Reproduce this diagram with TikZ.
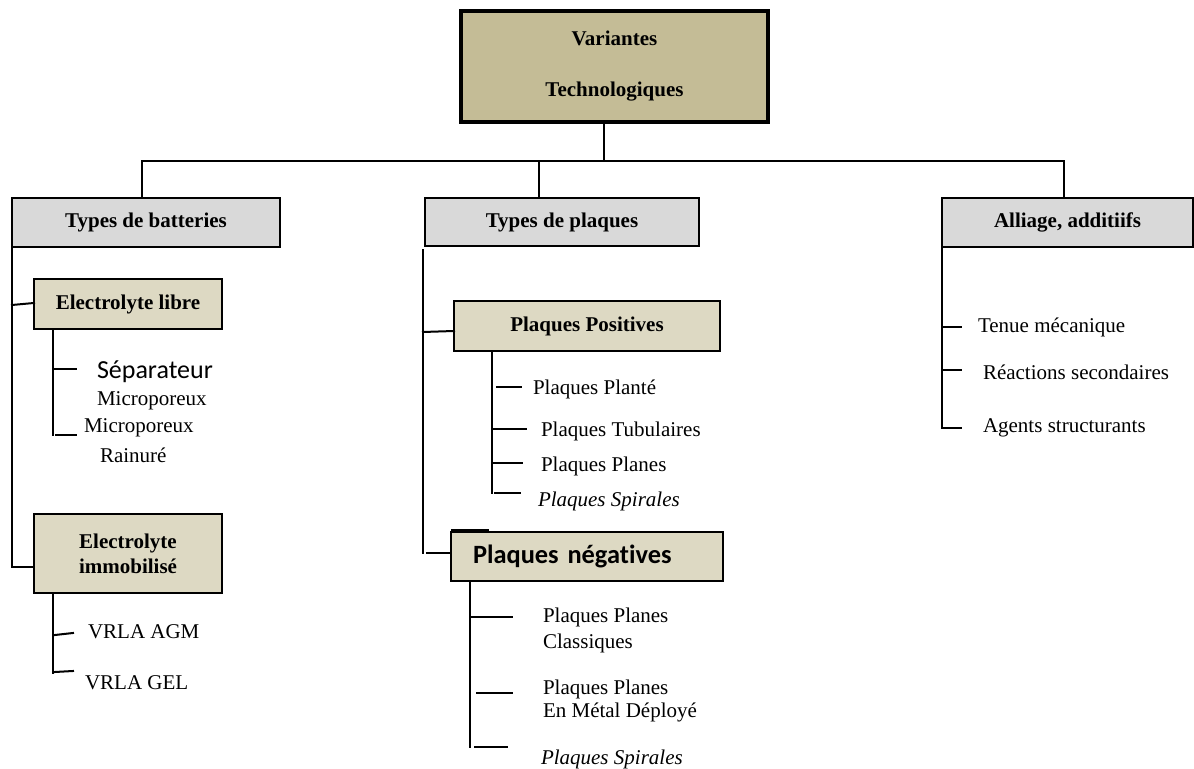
\documentclass[tikz,border=0pt]{standalone}
\usepackage{fontspec}
\setmainfont{Liberation Serif}
\newfontfamily\calib[Ligatures=NoCommon]{Carlito}
\definecolor{tanA}{HTML}{C4BC96}
\definecolor{tanB}{HTML}{DDD9C3}
\definecolor{grayB}{HTML}{D9D9D9}
\begin{document}
\begin{tikzpicture}[x=0.5pt,y=-0.5pt,
  every node/.style={inner sep=0pt, outer sep=0pt},
  conn/.style={line width=1pt, line cap=rect},
  topbox/.style={draw, line width=2pt, fill=tanA, font=\fontsize{10.5}{25.5}\selectfont\bfseries, align=center},
  graybox/.style={draw, line width=1pt, fill=grayB, font=\fontsize{10.5}{12.6}\selectfont\bfseries, align=center},
  tanbox/.style={draw, line width=1pt, fill=tanB, font=\fontsize{10.5}{12.5}\selectfont\bfseries, align=center},
  lbl/.style={anchor=west, font=\fontsize{10.5}{12.6}\selectfont, align=left},
  lblc/.style={anchor=west, font=\calib\fontsize{13}{15}\selectfont},
]
\useasboundingbox (0,0) rectangle (1194,769);

% boxes
\node[topbox, minimum width=153.5pt, minimum height=55.5pt] (top) at (614.5,66.5) {Variantes\\Technologiques};
\node[graybox, minimum width=134pt, minimum height=24.5pt] (batt) at (146,222.5) {Types de batteries};
\node[graybox, minimum width=137pt, minimum height=24pt] (plaq) at (562,222) {Types de plaques};
\node[graybox, minimum width=125.5pt, minimum height=24.5pt] (all) at (1067.5,222.5) {Alliage, additiifs};
\node[tanbox, minimum width=94pt, minimum height=25pt] (libre) at (128,304) {Electrolyte libre};
\node[tanbox, minimum width=94pt, minimum height=39.5pt] (immo) at (128,553.5) {Electrolyte\\immobilisé};
\node[tanbox, minimum width=133pt, minimum height=25pt] (pos) at (587,326) {Plaques Positives};
\node[draw, line width=1pt, fill=tanB, minimum height=24.5pt, text width=114pt, inner xsep=11pt, align=left,
      font=\calib\fontsize{13.2}{15}\selectfont\bfseries] (neg) at (587,556.5) {Plaques négatives};

% junctions
\coordinate (j0) at (604,161);
\coordinate (jL) at (142,161);
\coordinate (jM) at (539,161);
\coordinate (jR) at (1064,161);
\draw[conn] (top.south -| j0) -- (j0);
\draw[conn] (jL) -- (jR);
\draw[conn] (jL) -- (jL |- batt.north);
\draw[conn] (jM) -- (jM |- plaq.north);
\draw[conn] (jR) -- (jR |- all.north);

% left branch
\coordinate (s1) at (12,247);
\coordinate (s2) at (12,567);
\draw[conn] (s1) -- (s2) -- (s2 -| immo.west);
\draw[conn] (12,305) -- (libre.west |- 0,303);

\coordinate (l1) at (53,329);
\coordinate (l2) at (53,435);
\draw[conn] (l1) -- (l2);
\node[lblc] (sep) at (97,372) {Séparateur};
\node[lbl] (mic1) at (97,401) {Microporeux};
\node[lbl] (mic2) at (84,428) {Microporeux};
\node[lbl] (rain) at (100,455) {Rainuré};
\draw[conn] (53,369) -- (76,369);
\draw[conn] (56,435) -- (76,435);

\coordinate (i1) at (53,593);
\coordinate (i2) at (53,673);
\draw[conn] (i1) -- (i2);
\node[lbl] (agm) at (88,632) {VRLA AGM};
\node[lbl] (gel) at (85,683) {VRLA GEL};
\draw[conn] (55,635) -- (73,633);
\draw[conn] (55,672) -- (73,671);

% middle branch
\coordinate (m1) at (423,250);
\coordinate (m2) at (423,553);
\draw[conn] (m1) -- (m2);
\draw[conn] (423,332) -- (pos.west |- 0,331);
\draw[conn] (427,553) -- (neg.west |- 0,553);
\draw[line width=1.5pt] (451,531) -- (489,531);

\coordinate (p1) at (492,353);
\coordinate (p2) at (492,493);
\draw[conn] (p1) -- (p2);
\node[lbl] (pp1) at (533,389) {Plaques Planté};
\node[lbl] (pp2) at (541,431) {Plaques Tubulaires};
\node[lbl] (pp3) at (541,466) {Plaques Planes};
\node[lbl, font=\fontsize{10.5}{12.6}\selectfont\itshape] (pp4) at (538,501) {Plaques Spirales};
\draw[conn] (497,387) -- (521,387);
\draw[conn] (493,429) -- (526,429);
\draw[conn] (493,463) -- (522,463);
\draw[conn] (495,493) -- (520,493);

\coordinate (n1) at (470,583);
\coordinate (n2) at (470,747);
\draw[conn] (n1) -- (n2);
\node[lbl, font=\fontsize{10.5}{13}\selectfont] (nn1) at (543,630) {Plaques Planes\\Classiques};
\node[lbl, font=\fontsize{10.5}{11.5}\selectfont] (nn2) at (543,701) {Plaques Planes\\En Métal Déployé};
\node[lbl, font=\fontsize{10.5}{12.6}\selectfont\itshape] (nn3) at (541,759) {Plaques Spirales};
\draw[conn] (470,617) -- (512,617);
\draw[conn] (477,693) -- (512,693);
\draw[conn] (475,747) -- (507,747);

% right branch
\coordinate (r1) at (942,249);
\coordinate (r2) at (942,428);
\draw[conn] (r1) -- (r2);
\node[lbl] (t1) at (978,327) {Tenue mécanique};
\node[lbl] (t2) at (983,372) {Réactions secondaires};
\node[lbl] (t3) at (983,428) {Agents structurants};
\draw[conn] (942,327) -- (961,327);
\draw[conn] (942,370) -- (961,370);
\draw[conn] (942,428) -- (961,428);
\end{tikzpicture}
\end{document}
